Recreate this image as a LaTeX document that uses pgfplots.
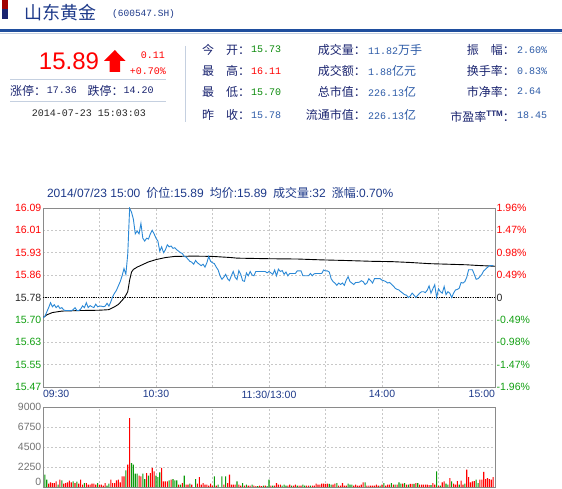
\documentclass[border=0pt]{standalone}
\usepackage{pgfplots}
\pgfplotsset{compat=1.18}
\usepackage{fontspec}
\setmainfont{Liberation Sans}
\newfontfamily\cjkf{Noto Sans CJK SC}
\newfontfamily\monof{Liberation Mono}
\newcommand\cj[1]{{\cjkf\fontsize{12}{12}\selectfont #1}}
\newcommand\mn[1]{{\monof\fontsize{10}{12}\selectfont #1}}
\definecolor{navy}{HTML}{1A2470}
\definecolor{tblue}{HTML}{1E3A8A}
\definecolor{hblue}{HTML}{1F4E9E}
\definecolor{vblue}{HTML}{2E5CA8}
\definecolor{upred}{HTML}{FF0000}
\definecolor{dngreen}{HTML}{0A8A0A}
\definecolor{sep}{HTML}{C5D0E0}
\definecolor{gridc}{HTML}{C8C8C8}
\definecolor{axc}{HTML}{8A8A8A}
\definecolor{lgreen}{HTML}{12A012}
\definecolor{pline}{HTML}{2A88D6}
\definecolor{vred}{HTML}{FF0000}
\definecolor{vgreen}{HTML}{0A9A0A}
\definecolor{dred}{HTML}{A00000}

\begin{document}
\begin{tikzpicture}
\path[use as bounding box, fill=white] (0pt,0pt) rectangle (562pt,488pt);
\begin{scope}[shift={(0pt,488pt)}, x=1pt, y=-1pt]
  % title block
  \fill[dred] (1.5,0) rectangle (7.5,9.5);
  \fill[navy] (1.5,9.5) rectangle (7.5,19.5);
  \node[anchor=west, inner sep=0, text=tblue, font=\cjkf\fontsize{18}{18}\selectfont] at (24,13) {山东黄金};
  \node[anchor=west, inner sep=0, text=tblue, font=\monof\fontsize{9.5}{10}\selectfont] at (112,14) {(600547.SH)};
  \fill[hblue] (0,29.3) rectangle (562,31.7);
  \fill[sep] (0,33) rectangle (562,34);
  % price block
  \node[anchor=center, inner sep=0, text=upred, font=\fontsize{24}{24}\selectfont] at (69,61) {15.89};
  \fill[upred] (114.8,50) -- (125.5,61) -- (120,61) -- (120,72) -- (109.5,72) -- (109.5,61) -- (104,61) -- cycle;
  \node[anchor=east, inner sep=0, text=upred] at (165,55) {\mn{0.11}};
  \node[anchor=east, inner sep=0, text=upred] at (166,71) {\mn{+0.70\%}};
  \draw[sep, line width=1pt] (10,79.3) -- (166,79.3);
  \draw[sep, line width=1pt] (10,101.7) -- (166,101.7);
  \node[anchor=west, inner sep=0, text=navy] at (10,90.7) {\cj{涨停：}};
  \node[anchor=west, inner sep=0, text=navy] at (46.7,90.7) {\mn{17.36}};
  \node[anchor=west, inner sep=0, text=navy] at (87.3,90.7) {\cj{跌停：}};
  \node[anchor=west, inner sep=0, text=navy] at (123.3,90.7) {\mn{14.20}};
  \node[anchor=west, inner sep=0, text=black!85] at (31.7,113.3) {\mn{2014-07-23 15:03:03}};
  \draw[sep, line width=1pt] (185,46) -- (185,122);
  % column 2
  \node[anchor=west, inner sep=0, text=navy] at (202,49.5) {\cj{今　开：}};
  \node[anchor=west, inner sep=0, text=dngreen] at (251,49.5) {\mn{15.73}};
  \node[anchor=west, inner sep=0, text=navy] at (202,71) {\cj{最　高：}};
  \node[anchor=west, inner sep=0, text=upred] at (251,71) {\mn{16.11}};
  \node[anchor=west, inner sep=0, text=navy] at (202,92.3) {\cj{最　低：}};
  \node[anchor=west, inner sep=0, text=dngreen] at (251,92.3) {\mn{15.70}};
  \node[anchor=west, inner sep=0, text=navy] at (202,115) {\cj{昨　收：}};
  \node[anchor=west, inner sep=0, text=vblue] at (251,115) {\mn{15.78}};
  % column 3
  \node[anchor=east, inner sep=0, text=navy] at (366,50) {\cj{成交量：}};
  \node[anchor=west, inner sep=0, text=vblue] at (368,50) {\mn{11.82}\cj{万手}};
  \node[anchor=east, inner sep=0, text=navy] at (366,71) {\cj{成交额：}};
  \node[anchor=west, inner sep=0, text=vblue] at (368,71) {\mn{1.88}\cj{亿元}};
  \node[anchor=east, inner sep=0, text=navy] at (366,91.5) {\cj{总市值：}};
  \node[anchor=west, inner sep=0, text=vblue] at (368,91.5) {\mn{226.13}\cj{亿}};
  \node[anchor=east, inner sep=0, text=navy] at (366,115) {\cj{流通市值：}};
  \node[anchor=west, inner sep=0, text=vblue] at (368,115) {\mn{226.13}\cj{亿}};
  % column 4
  \node[anchor=east, inner sep=0, text=navy] at (515,50) {\cj{振　幅：}};
  \node[anchor=west, inner sep=0, text=vblue] at (517,50) {\mn{2.60\%}};
  \node[anchor=east, inner sep=0, text=navy] at (515,71) {\cj{换手率：}};
  \node[anchor=west, inner sep=0, text=vblue] at (517,71) {\mn{0.83\%}};
  \node[anchor=east, inner sep=0, text=navy] at (515,91.5) {\cj{市净率：}};
  \node[anchor=west, inner sep=0, text=vblue] at (517,91.5) {\mn{2.64}};
  \node[anchor=east, inner sep=0, text=navy] at (515,116.5) {\cj{市盈率}\raisebox{5pt}{\fontsize{8}{8}\selectfont\bfseries TTM}\cj{：}};
  \node[anchor=west, inner sep=0, text=vblue] at (517,115) {\mn{18.45}};
  % chart header
  \node[anchor=west, inner sep=0, text=tblue, font=\fontsize{12}{12}\selectfont] at (46.8,193)
    {2014/07/23 15:00\hspace{6pt}\cj{价位}:15.89\hspace{6pt}\cj{均价}:15.89\hspace{6pt}\cj{成交量}:32\hspace{6pt}\cj{涨幅}:0.70\%};
\end{scope}

% ---------- price axis ----------
\begin{axis}[
  at={(43pt,101pt)}, anchor=south west,
  width=452pt, height=179pt, scale only axis,
  xmin=0, xmax=240, ymin=15.4707, ymax=16.0893,
  axis line style={axc, line width=0.9pt},
  xtick={0,30,60,90,120,150,180,210,240},
  xticklabels={\makebox[0pt][l]{09:30},,10:30,,11:30/13:00,,14:00,,\makebox[0pt][r]{15:00}},
  ytick={15.47071,15.54803,15.62536,15.70268,15.78,15.85732,15.93464,16.01197,16.08929},
  yticklabels={\textcolor{lgreen}{15.47},\textcolor{lgreen}{15.55},\textcolor{lgreen}{15.63},\textcolor{lgreen}{15.70},\textcolor{black!85}{15.78},\textcolor{upred}{15.86},\textcolor{upred}{15.93},\textcolor{upred}{16.01},\textcolor{upred}{16.09}},
  grid=major, major grid style={gridc, dash pattern=on 2pt off 2pt, line width=0.6pt},
  tick style={draw=none},
  tick label style={font=\fontsize{10.5}{10.5}\selectfont},
  xticklabel style={text=tblue},
  yticklabel style={inner sep=1.5pt},
]
\addplot[black, line width=0.8pt, dash pattern=on 1.2pt off 1.2pt] coordinates {(0,15.78) (240,15.78)};
\addplot[black, line width=0.9pt] table {
t p
0 15.710
2 15.720
5 15.728
10 15.733
20 15.735
30 15.736
35 15.738
38 15.748
40 15.756
42 15.770
43 15.778
44 15.788
45 15.800
46 15.840
47 15.868
48 15.877
50 15.885
53 15.894
56 15.903
60 15.911
65 15.918
70 15.922
80 15.923
90 15.922
100 15.918
103 15.916
120 15.914
135 15.913
148 15.910
160 15.908
175 15.905
185 15.904
195 15.901
205 15.897
215 15.895
225 15.893
230 15.891
240 15.888
};
\addplot[pline, line width=0.9pt] table {
t p
0 15.710
1 15.715
2 15.730
3 15.745
4 15.762
5 15.748
6 15.755
7 15.745
8 15.752
9 15.742
10 15.745
11 15.737
12 15.735
13 15.735
14 15.735
15 15.734
16 15.738
17 15.745
18 15.735
19 15.735
20 15.740
21 15.751
22 15.745
23 15.762
24 15.745
25 15.752
26 15.748
27 15.745
28 15.757
29 15.748
30 15.750
31 15.750
32 15.748
33 15.750
34 15.760
35 15.750
36 15.765
37 15.783
38 15.795
39 15.805
40 15.820
41 15.835
42 15.855
43 15.880
44 15.860
45 15.930
46 16.088
47 16.075
48 16.050
49 16.000
50 16.010
51 16.000
52 16.036
53 15.985
54 15.975
55 15.985
56 15.982
57 16.000
58 16.012
59 16.000
60 15.985
61 15.975
62 15.940
63 15.955
64 15.935
65 15.945
66 15.962
67 15.955
68 15.958
69 15.950
70 15.952
71 15.945
72 15.940
73 15.935
74 15.932
75 15.922
76 15.920
77 15.912
78 15.905
79 15.902
80 15.895
81 15.908
82 15.900
83 15.895
84 15.890
85 15.895
86 15.885
87 15.900
88 15.922
89 15.905
90 15.900
91 15.897
92 15.885
93 15.875
94 15.855
95 15.843
96 15.850
97 15.860
98 15.845
99 15.838
100 15.855
101 15.870
102 15.850
103 15.842
104 15.873
105 15.860
106 15.838
107 15.836
108 15.865
109 15.855
110 15.870
111 15.858
112 15.855
113 15.870
114 15.870
115 15.870
116 15.870
117 15.870
118 15.870
119 15.865
120 15.870
121 15.865
122 15.860
123 15.875
124 15.855
125 15.878
126 15.870
127 15.873
128 15.860
129 15.868
130 15.855
131 15.863
132 15.863
133 15.863
134 15.863
135 15.872
136 15.872
137 15.872
138 15.855
139 15.855
140 15.855
141 15.855
142 15.863
143 15.855
144 15.862
145 15.863
146 15.863
147 15.863
148 15.863
149 15.875
150 15.872
151 15.872
152 15.868
153 15.845
154 15.835
155 15.830
156 15.822
157 15.830
158 15.825
159 15.830
160 15.822
161 15.840
162 15.852
163 15.835
164 15.830
165 15.825
166 15.832
167 15.832
168 15.833
169 15.838
170 15.835
171 15.825
172 15.830
173 15.845
174 15.838
175 15.830
176 15.845
177 15.845
178 15.845
179 15.845
180 15.840
181 15.838
182 15.835
183 15.830
184 15.832
185 15.826
186 15.820
187 15.812
188 15.808
189 15.806
190 15.800
191 15.795
192 15.790
193 15.788
194 15.780
195 15.785
196 15.795
197 15.788
198 15.780
199 15.788
200 15.795
201 15.800
202 15.800
203 15.797
204 15.805
205 15.820
206 15.795
207 15.810
208 15.824
209 15.780
210 15.810
211 15.800
212 15.795
213 15.818
214 15.790
215 15.800
216 15.795
217 15.780
218 15.795
219 15.806
220 15.808
221 15.812
222 15.832
223 15.830
224 15.835
225 15.850
226 15.876
227 15.876
228 15.876
229 15.860
230 15.843
231 15.845
232 15.852
233 15.860
234 15.872
235 15.878
236 15.884
237 15.890
238 15.890
239 15.890
};
\end{axis}

% ---------- right labels ----------
\begin{axis}[
  at={(43pt,101pt)}, anchor=south west,
  width=452pt, height=179pt, scale only axis,
  xmin=0, xmax=240, ymin=15.4707, ymax=16.0893,
  axis x line=none, axis y line*=right,
  y axis line style={draw=none},
  tick style={draw=none},
  ytick={15.47071,15.54803,15.62536,15.70268,15.78,15.85732,15.93464,16.01197,16.08929},
  yticklabels={\textcolor{lgreen}{-1.96\%},\textcolor{lgreen}{-1.47\%},\textcolor{lgreen}{-0.98\%},\textcolor{lgreen}{-0.49\%},\textcolor{black!85}{0},\textcolor{upred}{0.49\%},\textcolor{upred}{0.98\%},\textcolor{upred}{1.47\%},\textcolor{upred}{1.96\%}},
  tick label style={font=\fontsize{10.5}{10.5}\selectfont},
  yticklabel style={inner sep=1.5pt},
]
\end{axis}

% ---------- volume axis ----------
\begin{axis}[
  at={(43pt,1pt)}, anchor=south west,
  width=452pt, height=80pt, scale only axis,
  xmin=0, xmax=240, ymin=0, ymax=9000,
  axis line style={axc, line width=0.9pt},
  xtick={30,60,90,120,150,180,210}, xticklabels={},
  ytick={0,2250,4500,6750,9000},
  yticklabels={\raisebox{5pt}[\height][\depth]{0},2250,4500,6750,9000},
  scaled y ticks=false,
  grid=major, major grid style={gridc, dash pattern=on 2pt off 2pt, line width=0.6pt},
  tick style={draw=none},
  tick label style={font=\fontsize{10.5}{10.5}\selectfont},
  yticklabel style={inner sep=1.5pt, text=black!55},
]
\addplot[ybar, bar width=1.1pt, bar shift=0pt, fill=vred, draw=none] coordinates {
(3,375) (4,525) (5,450) (6,450) (7,640) (9,825) (11,375) (12,450) (13,525) (14,710) (15,525) (17,450) (19,375) (20,825) (21,260) (23,450) (24,260) (25,260) (26,375) (27,375) (28,260) (30,260) (31,260) (32,150) (33,450) (36,825) (37,450) (38,450) (39,750) (40,825) (41,525) (42,1200) (43,1200) (45,2510) (46,7760) (51,1275) (52,1200) (55,1575) (57,1575) (58,2140) (59,1760) (63,2140) (64,640) (65,640) (66,640) (68,825) (72,260) (74,450) (76,260) (77,260) (79,260) (82,375) (83,1125) (84,260) (85,450) (86,260) (87,260) (88,150) (89,375) (90,150) (92,150) (96,260) (98,450) (99,1390) (100,260) (101,260) (102,260) (104,260) (105,150) (107,150) (109,150) (110,150) (112,150) (113,100) (115,150) (116,100) (118,150)
(121,150) (123,150) (124,450) (125,260) (126,260) (130,150) (131,260) (133,150) (134,260) (136,150) (137,150) (140,150) (141,150) (143,150) (144,150) (145,375) (146,260) (147,260) (148,375) (149,375) (150,340) (151,375) (154,260) (155,375) (157,150) (158,150) (159,450) (160,150) (161,150) (165,150) (166,260) (167,150) (168,150) (169,260) (170,525) (172,150) (173,150) (174,150) (175,150) (176,150) (177,260) (178,150) (180,260) (182,150) (183,260) (184,260) (186,260) (188,260) (191,375) (193,260) (195,340) (196,340) (198,450) (200,260) (201,260) (202,260) (203,260) (204,260) (205,225) (207,450) (208,260) (210,150) (212,525) (213,640) (216,1010) (218,375) (219,260) (220,675) (222,710) (223,260) (225,1950) (226,1125) (227,525) (228,640) (229,675) (232,825) (233,825) (234,1690) (235,900) (236,1010) (237,900) (238,825) (239,1125)
};
\addplot[ybar, bar width=1.1pt, bar shift=0pt, fill=vgreen, draw=none] coordinates {
(1,1390) (2,825) (8,260) (10,750) (16,640) (18,600) (22,450) (29,450) (34,150) (35,375) (44,1875) (47,2700) (48,2510) (49,1500) (50,1500) (53,1500) (54,900) (56,1275) (60,1275) (61,1125) (62,1650) (67,750) (69,900) (70,750) (71,750) (73,260) (75,1275) (78,375) (81,900) (91,1200) (93,260) (95,1200) (97,1200) (103,640) (106,450) (108,260) (111,260) (114,100) (117,150) (119,100)
(120,825) (122,150) (127,150) (128,260) (129,150) (132,150) (135,150) (138,260) (139,150) (142,150) (152,340) (153,260) (156,450) (162,375) (163,260) (164,260) (171,525) (179,150) (181,450) (185,450) (187,260) (189,525) (190,375) (192,450) (194,260) (197,340) (199,450) (206,225) (209,1760) (211,150) (214,375) (215,260) (217,640) (221,260) (224,375) (230,825) (231,450)
};
\end{axis}
\end{tikzpicture}
\end{document}
